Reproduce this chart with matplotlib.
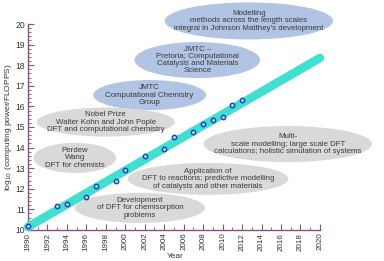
import matplotlib
matplotlib.use("Agg")
import matplotlib.pyplot as plt
from matplotlib.patches import Ellipse
from matplotlib.ticker import MultipleLocator

plt.rcParams['font.family'] = ['Liberation Sans', 'DejaVu Sans']

# Data
years = [1990, 1993, 1994, 1996, 1997, 1999, 2000, 2002, 2004, 2005, 2007, 2008, 2009, 2010, 2011, 2012]
log_flops = [10.2, 11.15, 11.25, 11.58, 12.15, 12.4, 12.9, 13.6, 13.92, 14.5, 14.75, 15.13, 15.33, 15.49, 16.07, 16.31]
trend_years = [1990, 2020]
trend_vals = [10.15, 18.35]

# Annotation bubbles: (text, x, y, width, height, kind)
notes = [
    ("Modelling\nmethods across the length scales\nintegral in Johnson Matthey\u2019s development", 2012.7, 20.15, 17.3, 1.8, "blue"),
    ("JMTC \u2013\nPretoria; Computational\nCatalysis and Materials\nScience", 2007.4, 18.25, 12.9, 1.75, "blue"),
    ("JMTC\nComputational Chemistry\nGroup", 2002.5, 16.55, 11.6, 1.46, "blue"),
    ("Nobel Prize\nWalter Kohn and John Pople\nDFT and computational chemistry", 1998.0, 15.24, 14.2, 1.41, "grey"),
    ("Perdew\nWang\nDFT for chemists", 1994.8, 13.5, 8.5, 1.46, "grey"),
    ("Multi-\nscale modelling; large scale DFT\ncalculations; holistic simulation of systems", 2016.7, 14.17, 17.3, 1.75, "grey"),
    ("Application of\nDFT to reactions; predictive modelling\nof catalysts and other materials", 2008.5, 12.48, 16.5, 1.55, "grey"),
    ("Development\nof DFT for chemisorption\nproblems", 2001.5, 11.07, 13.4, 1.46, "grey"),
]
colors = {"blue": "#b1c4e3", "grey": "#d9d9d9"}

fig = plt.figure(figsize=(3.84, 2.61), dpi=100)
ax = fig.add_axes([0.073, 0.119, 0.76, 0.789])
ax.set_xlim(1990, 2020)
ax.set_ylim(10, 20)

for text, x, y, w, h, kind in notes:
    e = Ellipse((x, y), w, h, facecolor=colors[kind], edgecolor='none', zorder=1, clip_on=False)
    ax.add_patch(e)
    ax.text(x, y, text, ha='center', va='center', fontsize=5.7, color='#3a3a3a',
            linespacing=1.05, zorder=2, clip_on=False)

ax.plot(trend_years, trend_vals, color='#3fe0cf', lw=6.2, solid_capstyle='round', zorder=3, clip_on=False)
ax.plot(years, log_flops, 'o', ms=3.2, mfc='#9fd8f0', mec='#1a3fcf', mew=1.0, zorder=4, clip_on=False)

axis_col = '#8a4f84'
for s in ['top', 'right']:
    ax.spines[s].set_visible(False)
for s in ['left', 'bottom']:
    ax.spines[s].set_color(axis_col)
    ax.spines[s].set_linewidth(1.0)

ax.xaxis.set_major_locator(MultipleLocator(2))
ax.xaxis.set_minor_locator(MultipleLocator(1))
ax.yaxis.set_major_locator(MultipleLocator(1))
ax.yaxis.set_minor_locator(MultipleLocator(0.2))
ax.tick_params(which='both', direction='in', color=axis_col, labelcolor='#333333', pad=2)
ax.tick_params(axis='x', labelsize=5.8, labelrotation=90)
ax.tick_params(axis='y', labelsize=6.2)
ax.tick_params(which='major', length=4, width=0.8)
ax.tick_params(which='minor', length=2, width=0.6)

fig.text(175 / 384, 1 - 256 / 261, 'Year', fontsize=6, color='#333333', ha='center', va='center')
fig.text(9 / 384, 1 - 127 / 261, 'log$_{10}$ (computing power/FLOPPS)', fontsize=6, color='#333333',
         ha='center', va='center', rotation=90)

fig.savefig('out.png', dpi=100)
